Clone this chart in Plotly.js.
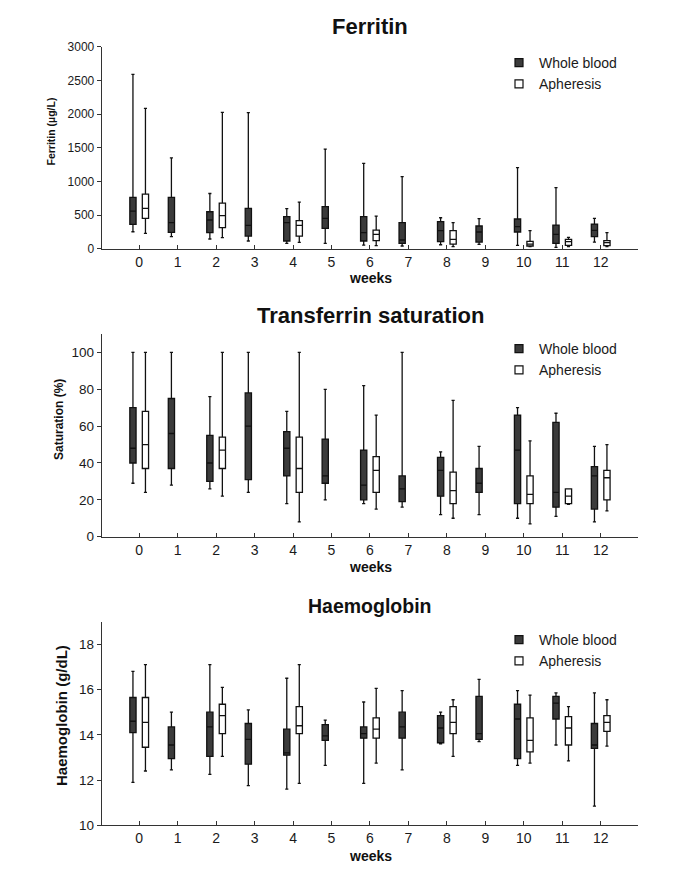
<!DOCTYPE html>
<html>
<head>
<meta charset="utf-8">
<script src="https://cdn.plot.ly/plotly-3.0.1.min.js"></script>
<style>html,body{margin:0;padding:0;background:#fff;}#chart{width:674px;height:872px;}</style>
</head>
<body>
<div id="chart"></div>
<script>
// ---------- data ----------
const weeks = [0,1,2,3,4,5,6,7,8,9,10,11,12];
const apWeeks = [0,2,4,6,8,10,11,12];
const weekLabels = ['0','1','2','3','4','5','6','7','8','9','10','11','12'];

// Ferritin (µg/L) - Whole blood
const ferWB_upper  = [2590,1350,820,2020,594,1480,1267,1069,460,446,1203,906,450];
const ferWB_q3     = [762,762,549,599,475,624,475,386,401,337,441,351,366];
const ferWB_median = [559,386,426,347,386,450,238,129,267,248,327,213,272];
const ferWB_q1     = [361,243,238,188,114,302,114,79,104,99,248,79,178];
const ferWB_lower  = [252,178,144,114,79,79,54,40,59,64,50,20,99];
// Ferritin - Apheresis
const ferAP_upper  = [2084,2025,693,485,386,267,168,238];
const ferAP_q3     = [812,678,416,277,267,109,139,119];
const ferAP_median = [599,490,347,213,139,69,104,89];
const ferAP_q1     = [450,312,188,119,69,40,50,45];
const ferAP_lower  = [228,163,94,45,30,30,30,30];

// Transferrin saturation (%) - Whole blood
const tsWB_upper  = [100,100,76,100,68,80,82,100,46,49,70,67,49];
const tsWB_q3     = [70,75,55,78,57,53,47,33,43,37,66,62,38];
const tsWB_median = [48,56,40,60,48,33,28,26,36,29,47,24,33];
const tsWB_q1     = [40,37,30,31,33,29,20,19,22,24,18,16,15];
const tsWB_lower  = [29,28,26,24,18,20,18,16,12,12,10,11,8];
// Transferrin saturation - Apheresis
const tsAP_upper  = [100,100,100,66,74,52,26,50];
const tsAP_q3     = [68,54,54,43.5,35,33,26,36];
const tsAP_median = [50,47,37,36,25,23,22,32];
const tsAP_q1     = [37,37,24,24,18,18,18,20];
const tsAP_lower  = [24,22,8,15,10,7,17.5,14];

// Haemoglobin (g/dL) - Whole blood
const hbWB_upper  = [16.8,15.0,17.1,15.1,16.5,14.65,15.45,15.95,15.0,16.45,15.95,15.85,15.85];
const hbWB_q3     = [15.65,14.35,15.0,14.5,14.25,14.45,14.35,15.0,14.85,15.7,15.35,15.7,14.5];
const hbWB_median = [14.6,13.55,14.35,13.8,13.2,13.95,14.05,14.35,14.3,14.05,14.7,15.4,13.55];
const hbWB_q1     = [14.1,12.95,13.05,12.7,13.1,13.75,13.85,13.85,13.65,13.8,12.95,14.7,13.4];
const hbWB_lower  = [11.9,12.45,12.25,11.75,11.6,12.65,11.85,12.45,13.6,13.7,12.65,13.55,10.85];
// Haemoglobin - Apheresis
const hbAP_upper  = [17.1,16.1,17.1,16.05,15.55,15.75,15.25,15.55];
const hbAP_q3     = [15.65,15.35,15.25,14.75,15.25,14.75,14.8,14.85];
const hbAP_median = [14.55,14.85,14.4,14.25,14.55,13.75,14.3,14.55];
const hbAP_q1     = [13.45,14.05,14.05,13.85,14.05,13.25,13.55,14.15];
const hbAP_lower  = [12.4,13.05,11.85,12.75,13.05,12.75,12.85,13.5];

const seriesNames = ['Whole blood', 'Apheresis'];
const panelTitles = ['Ferritin', 'Transferrin saturation', 'Haemoglobin'];
const yTitles = ['Ferritin (\u00b5g/L)', 'Saturation (%)', 'Haemoglobin (g/dL)'];
const xTitle = 'weeks';

// ---------- styling ----------
const W = 674, H = 872;
const FONT = 'Liberation Sans, Arial, sans-serif';
const WB_FILL = '#3b3b3b';
const AP_FILL = '#ffffff';
const LINE = '#111111';
const px = v => v / W;
const py = v => 1 - v / H;

function boxTrace(name, x, lower, q1, med, q3, upper, fill, ax, ay, grp, og) {
  return {
    type: 'box', name: name, x: x,
    lowerfence: lower, q1: q1, median: med, q3: q3, upperfence: upper,
    xaxis: ax, yaxis: ay, alignmentgroup: grp, offsetgroup: og,
    fillcolor: fill, line: {color: LINE, width: 1.3},
    whiskerwidth: 0.5, boxpoints: false, showlegend: false,
    hoverinfo: 'y'
  };
}
function legendTrace(name, fill, ax, ay, lg) {
  return {
    type: 'scatter', mode: 'markers', name: name, x: [null], y: [null],
    xaxis: ax, yaxis: ay, legend: lg, showlegend: true,
    marker: {symbol: 'square', size: 8, color: fill, line: {color: LINE, width: 1.2}},
    hoverinfo: 'skip'
  };
}

const panels = [
  {ax:'x',  ay:'y',  lg:'legend',  wb:[ferWB_lower,ferWB_q1,ferWB_median,ferWB_q3,ferWB_upper], ap:[ferAP_lower,ferAP_q1,ferAP_median,ferAP_q3,ferAP_upper]},
  {ax:'x2', ay:'y2', lg:'legend2', wb:[tsWB_lower,tsWB_q1,tsWB_median,tsWB_q3,tsWB_upper], ap:[tsAP_lower,tsAP_q1,tsAP_median,tsAP_q3,tsAP_upper]},
  {ax:'x3', ay:'y3', lg:'legend3', wb:[hbWB_lower,hbWB_q1,hbWB_median,hbWB_q3,hbWB_upper], ap:[hbAP_lower,hbAP_q1,hbAP_median,hbAP_q3,hbAP_upper]}
];

const data = [];
panels.forEach((p, i) => {
  data.push(boxTrace(seriesNames[0], weeks, ...p.wb, WB_FILL, p.ax, p.ay, 'p' + i, 'wb'));
  data.push(boxTrace(seriesNames[1], apWeeks, ...p.ap, AP_FILL, p.ax, p.ay, 'p' + i, 'ap'));
  data.push(legendTrace(seriesNames[0], WB_FILL, p.ax, p.ay, p.lg));
  data.push(legendTrace(seriesNames[1], AP_FILL, p.ax, p.ay, p.lg));
});

// plot area geometry (pixels)
const plotL = 101.7, plotR = 638;
const rows = [
  {top: 46.7, bottom: 248.7, yr: [0, 3000], dtick: 500, tick0: 0, title: 27, tsize: 22,
   xt: 278, ytx: 50.5, yty: 132, ytsize: 10.5, ytick: 12, leg: 47},
  {top: 334,  bottom: 536.7, yr: [0, 110],  dtick: 20,  tick0: 0, title: 316, tsize: 22,
   xt: 567, ytx: 59, yty: 420, ytsize: 12, ytick: 13.5, leg: 333},
  {top: 621.7, bottom: 825.3, yr: [10, 19], dtick: 2,   tick0: 10, title: 606, tsize: 19.5,
   xt: 856, ytx: 61, yty: 716, ytsize: 15, ytick: 13.5, leg: 624}
];

const layout = {
  width: W, height: H,
  margin: {l: 0, r: 0, t: 0, b: 0},
  paper_bgcolor: '#fff', plot_bgcolor: '#fff',
  font: {family: FONT, color: '#1a1a1a', size: 14},
  boxmode: 'group', boxgap: 0.35, boxgroupgap: 0.5,
  annotations: []
};

rows.forEach((r, i) => {
  const sfx = i === 0 ? '' : String(i + 1);
  layout['xaxis' + sfx] = {
    domain: [px(plotL), px(plotR)],
    anchor: 'y' + sfx,
    range: [-0.975, 12.97],
    tickmode: 'array', tickvals: weeks, ticktext: weekLabels,
    ticks: 'inside', ticklen: 4, tickwidth: 1, tickcolor: '#333',
    showline: true, linecolor: '#333', linewidth: 1,
    showgrid: false, zeroline: false,
    tickfont: {size: 14, family: FONT, color: '#1a1a1a'}
  };
  layout['yaxis' + sfx] = {
    domain: [py(r.bottom), py(r.top)],
    anchor: 'x' + sfx,
    range: r.yr, tick0: r.tick0, dtick: r.dtick,
    ticks: 'outside', ticklen: 4, tickwidth: 1, tickcolor: '#333',
    showline: true, linecolor: '#333', linewidth: 1,
    showgrid: false, zeroline: false,
    tickfont: {size: r.ytick, family: FONT, color: '#1a1a1a'}
  };
  const lgKey = i === 0 ? 'legend' : 'legend' + (i + 1);
  layout[lgKey] = {
    x: px(499), y: py(r.leg), xanchor: 'left', yanchor: 'top',
    bgcolor: 'rgba(0,0,0,0)', borderwidth: 0,
    font: {size: 14, family: FONT, color: '#1a1a1a'},
    tracegroupgap: 0
  };
  layout.annotations.push({
    text: '<b>' + panelTitles[i] + '</b>', xref: 'paper', yref: 'paper',
    x: px(370), y: py(r.title), xanchor: 'center', yanchor: 'middle',
    showarrow: false, font: {size: r.tsize, family: FONT, color: '#111'}
  });
  layout.annotations.push({
    text: '<b>' + xTitle + '</b>', xref: 'paper', yref: 'paper',
    x: px(370), y: py(r.xt), xanchor: 'center', yanchor: 'middle',
    showarrow: false, font: {size: 14, family: FONT, color: '#111'}
  });
  layout.annotations.push({
    text: '<b>' + yTitles[i] + '</b>', xref: 'paper', yref: 'paper',
    x: px(r.ytx), y: py(r.yty), xanchor: 'center', yanchor: 'middle',
    textangle: -90,
    showarrow: false, font: {size: r.ytsize, family: FONT, color: '#111'}
  });
});

Plotly.newPlot('chart', data, layout, {staticPlot: true, displayModeBar: false});
</script>
</body>
</html>
